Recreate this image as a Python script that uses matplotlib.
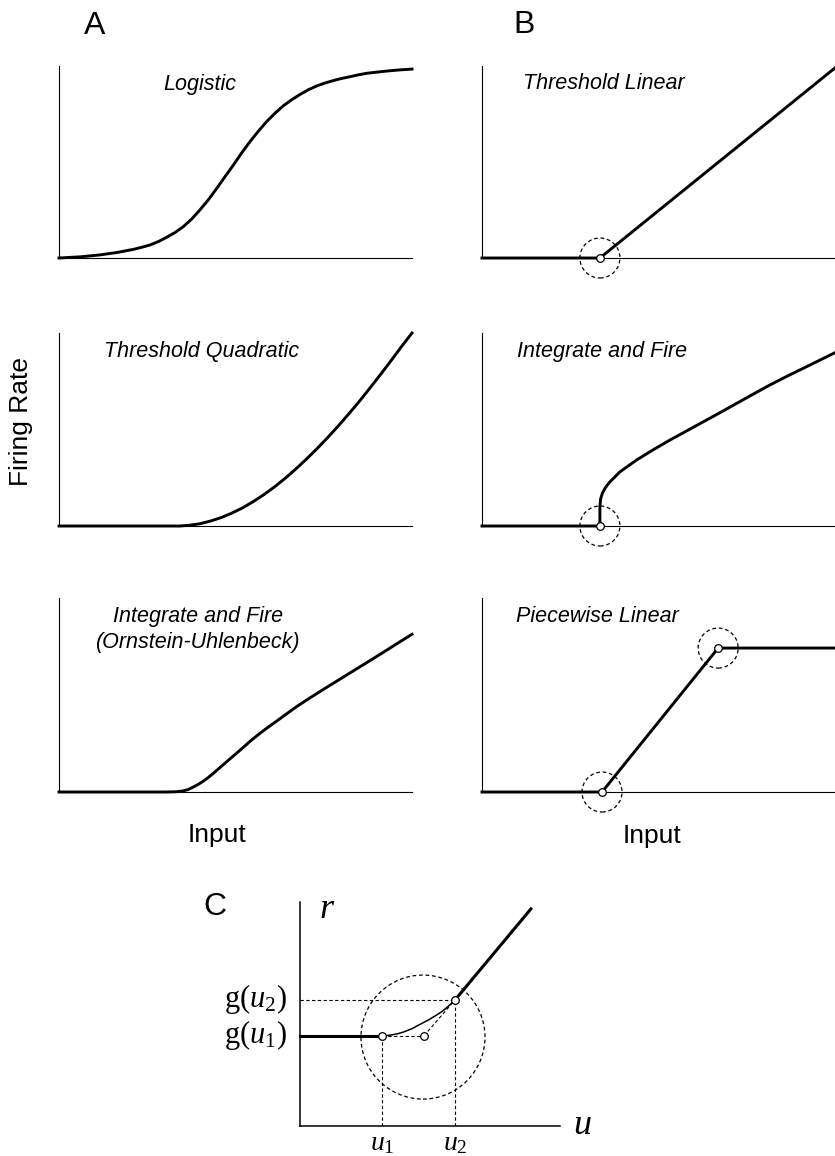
import matplotlib
matplotlib.use('Agg')
import matplotlib.pyplot as plt

plt.rcParams['font.family'] = ['Liberation Sans', 'DejaVu Sans']
plt.rcParams['mathtext.fontset'] = 'custom'
plt.rcParams['mathtext.rm'] = 'Liberation Serif'
plt.rcParams['mathtext.it'] = 'Liberation Serif:italic'

W, H = 835, 1156

# curves, x and y as fractions of each small axes
logistic_x = [0, 0.06, 0.116, 0.165, 0.211, 0.235, 0.258, 0.282, 0.305, 0.329,
              0.352, 0.376, 0.399, 0.423, 0.447, 0.470, 0.494, 0.517, 0.541,
              0.565, 0.588, 0.612, 0.635, 0.659, 0.683, 0.706, 0.730, 0.753,
              0.777, 0.80, 0.824, 0.848, 0.872, 0.919, 0.96, 1.0]
logistic_y = [0, 0.006, 0.016, 0.029, 0.045, 0.056, 0.068, 0.086, 0.108, 0.133,
              0.163, 0.203, 0.25, 0.303, 0.363, 0.423, 0.484, 0.546, 0.606,
              0.661, 0.71, 0.754, 0.792, 0.824, 0.852, 0.876, 0.896, 0.911,
              0.924, 0.935, 0.944, 0.954, 0.962, 0.972, 0.979, 0.984]

quad_x = [0, 0.343, 0.37, 0.40, 0.43, 0.46, 0.49, 0.52, 0.55, 0.58, 0.61, 0.64,
          0.67, 0.70, 0.73, 0.76, 0.79, 0.82, 0.85, 0.88, 0.91, 0.94, 0.97, 1.0]
quad_y = [0, 0, 0.004, 0.012, 0.026, 0.044, 0.067, 0.094, 0.126, 0.162, 0.202,
          0.246, 0.294, 0.345, 0.399, 0.456, 0.516, 0.579, 0.644, 0.713, 0.783,
          0.855, 0.929, 1.0]

ou_x = [0, 0.30, 0.33, 0.35, 0.365, 0.38, 0.395, 0.409, 0.423, 0.437, 0.456,
        0.475, 0.498, 0.522, 0.545, 0.569, 0.593, 0.617, 0.645, 0.673, 0.71,
        0.75, 0.79, 0.83, 0.87, 0.91, 0.955, 1.0]
ou_y = [0, 0, 0.001, 0.005, 0.012, 0.025, 0.040, 0.056, 0.075, 0.096, 0.126,
        0.156, 0.192, 0.230, 0.267, 0.302, 0.335, 0.366, 0.403, 0.44, 0.484,
        0.53, 0.575, 0.62, 0.665, 0.71, 0.762, 0.813]

thr_lin_x = [0, 0.334, 1.0]
thr_lin_y = [0, 0, 0.99]

if_x = [0, 0.334, 0.334, 0.336, 0.341, 0.35, 0.363, 0.391, 0.438, 0.485, 0.533,
        0.58, 0.627, 0.675, 0.722, 0.769, 0.816, 0.863, 0.910, 1.0]
if_y = [0, 0, 0.10, 0.14, 0.17, 0.20, 0.23, 0.281, 0.342, 0.395, 0.446, 0.493,
        0.540, 0.588, 0.636, 0.684, 0.731, 0.775, 0.817, 0.898]

pw_x = [0, 0.340, 0.669, 1.0]
pw_y = [0, 0, 0.742, 0.742]

# kinks marked with open dots + dashed circles
thr_lin_pts = [(0.334, 0)]
if_pts = [(0.334, 0)]
pw_pts = [(0.340, 0), (0.669, 0.742)]

# panel C
u1, u2 = 0.314, 0.596
g1, g2 = 0.403, 0.5625
u_mid = 0.477
c_end = (0.888, 0.969)
c_curve_x = [0.314, 0.335, 0.355, 0.376, 0.397, 0.43, 0.462, 0.495, 0.526, 0.546, 0.564, 0.58, 0.596]
c_curve_y = [0.403, 0.404, 0.407, 0.412, 0.419, 0.434, 0.454, 0.474, 0.496, 0.511, 0.528, 0.545, 0.5625]
c_circle = (0.473, 0.397)

fig = plt.figure(figsize=(W / 100, H / 100), dpi=100)


def px_ax(left, top, right, bottom):
    ax = fig.add_axes([left / W, 1 - bottom / H, (right - left) / W, (bottom - top) / H])
    ax.set_xlim(0, 1)
    ax.set_ylim(0, 1)
    ax.set_xticks([])
    ax.set_yticks([])
    ax.spines['top'].set_visible(False)
    ax.spines['right'].set_visible(False)
    for s in ['left', 'bottom']:
        ax.spines[s].set_linewidth(0.8)
    ax.patch.set_alpha(0)
    return ax


def ftext(x, y, s, **kw):
    fig.text(x / W, 1 - y / H, s, **kw)


rows = [(66, 258), (333, 526), (598, 792)]
axA = [px_ax(59, t, 412, b) for t, b in rows]
axB = [px_ax(482, t, 835, b) for t, b in rows]

ckw = dict(color='k', lw=2.1, clip_on=False, solid_joinstyle='round')
axA[0].plot(logistic_x, logistic_y, **ckw)
axA[1].plot(quad_x, quad_y, **ckw)
axA[2].plot(ou_x, ou_y, **ckw)
axB[0].plot(thr_lin_x, thr_lin_y, **ckw)
axB[1].plot(if_x, if_y, **ckw)
axB[2].plot(pw_x, pw_y, **ckw)

dash = (0, (3, 2.2))
for ax, pts in zip(axB, [thr_lin_pts, if_pts, pw_pts]):
    xs = [p[0] for p in pts]
    ys = [p[1] for p in pts]
    ax.scatter(xs, ys, s=830, facecolors='none', edgecolors='k', linewidths=0.9,
               linestyles=dash, clip_on=False, zorder=1)
    ax.plot(xs, ys, 'o', ms=5.5, mfc='white', mec='k', mew=0.9, clip_on=False, zorder=5)

# titles
tkw = dict(fontsize=15.5, style='italic', ha='center', va='baseline')
ftext(200, 90, 'Logistic', **tkw)
ftext(202, 357, 'Threshold Quadratic', **tkw)
ftext(198, 622, 'Integrate and Fire', **tkw)
ftext(198, 648, '(Ornstein-Uhlenbeck)', **tkw)
ftext(604, 89, 'Threshold Linear', **tkw)
ftext(602, 357, 'Integrate and Fire', **tkw)
ftext(597, 622, 'Piecewise Linear', **tkw)

ftext(95, 34, 'A', fontsize=23, ha='center', va='baseline')
ftext(524, 33, 'B', fontsize=23, ha='center', va='baseline')
ftext(215, 915, 'C', fontsize=23, ha='center', va='baseline')
ftext(217, 842, 'Input', fontsize=19, ha='center', va='baseline')
ftext(652, 843, 'Input', fontsize=19, ha='center', va='baseline')
ftext(21, 421, 'Firing Rate', fontsize=19, ha='center', va='center', rotation=90)

# panel C
axC = px_ax(300, 902, 560, 1126)
for s in ['left', 'bottom']:
    axC.spines[s].set_linewidth(1.1)
axC.plot([0, u1], [g1, g1], color='k', lw=2.2, clip_on=False)
axC.plot(c_curve_x, c_curve_y, color='k', lw=1.1, clip_on=False, solid_joinstyle='round')
axC.plot([u2, c_end[0]], [g2, c_end[1]], color='k', lw=2.2, clip_on=False)
axC.plot([0, u2], [g2, g2], color='k', lw=0.8, ls=dash)
axC.plot([u1, u1], [0, g1], color='k', lw=0.8, ls=dash)
axC.plot([u2, u2], [0, g2], color='k', lw=0.8, ls=dash)
axC.plot([u1, u_mid], [g1, g1], color='k', lw=0.8, ls=dash)
axC.plot([u_mid, u2], [g1, g2], color='k', lw=0.8, ls=dash)
axC.scatter([c_circle[0]], [c_circle[1]], s=7970, facecolors='none', edgecolors='k',
            linewidths=0.9, linestyles=dash, zorder=1)
axC.plot([u1, u_mid, u2], [g1, g1, g2], 'o', ms=5.5, mfc='white', mec='k', mew=0.9,
         zorder=5)

ftext(327, 918, '$r$', fontsize=26, ha='center', va='baseline')
ftext(582, 1134, '$u$', fontsize=26, ha='center', va='baseline')
ftext(287, 1007, r'$\mathrm{g}(u_2)$', fontsize=22, ha='right', va='baseline')
ftext(287, 1043, r'$\mathrm{g}(u_1)$', fontsize=22, ha='right', va='baseline')
ftext(382, 1150, '$u_1$', fontsize=20, ha='center', va='baseline')
ftext(455, 1150, '$u_2$', fontsize=20, ha='center', va='baseline')

fig.savefig('out.png', dpi=100)
